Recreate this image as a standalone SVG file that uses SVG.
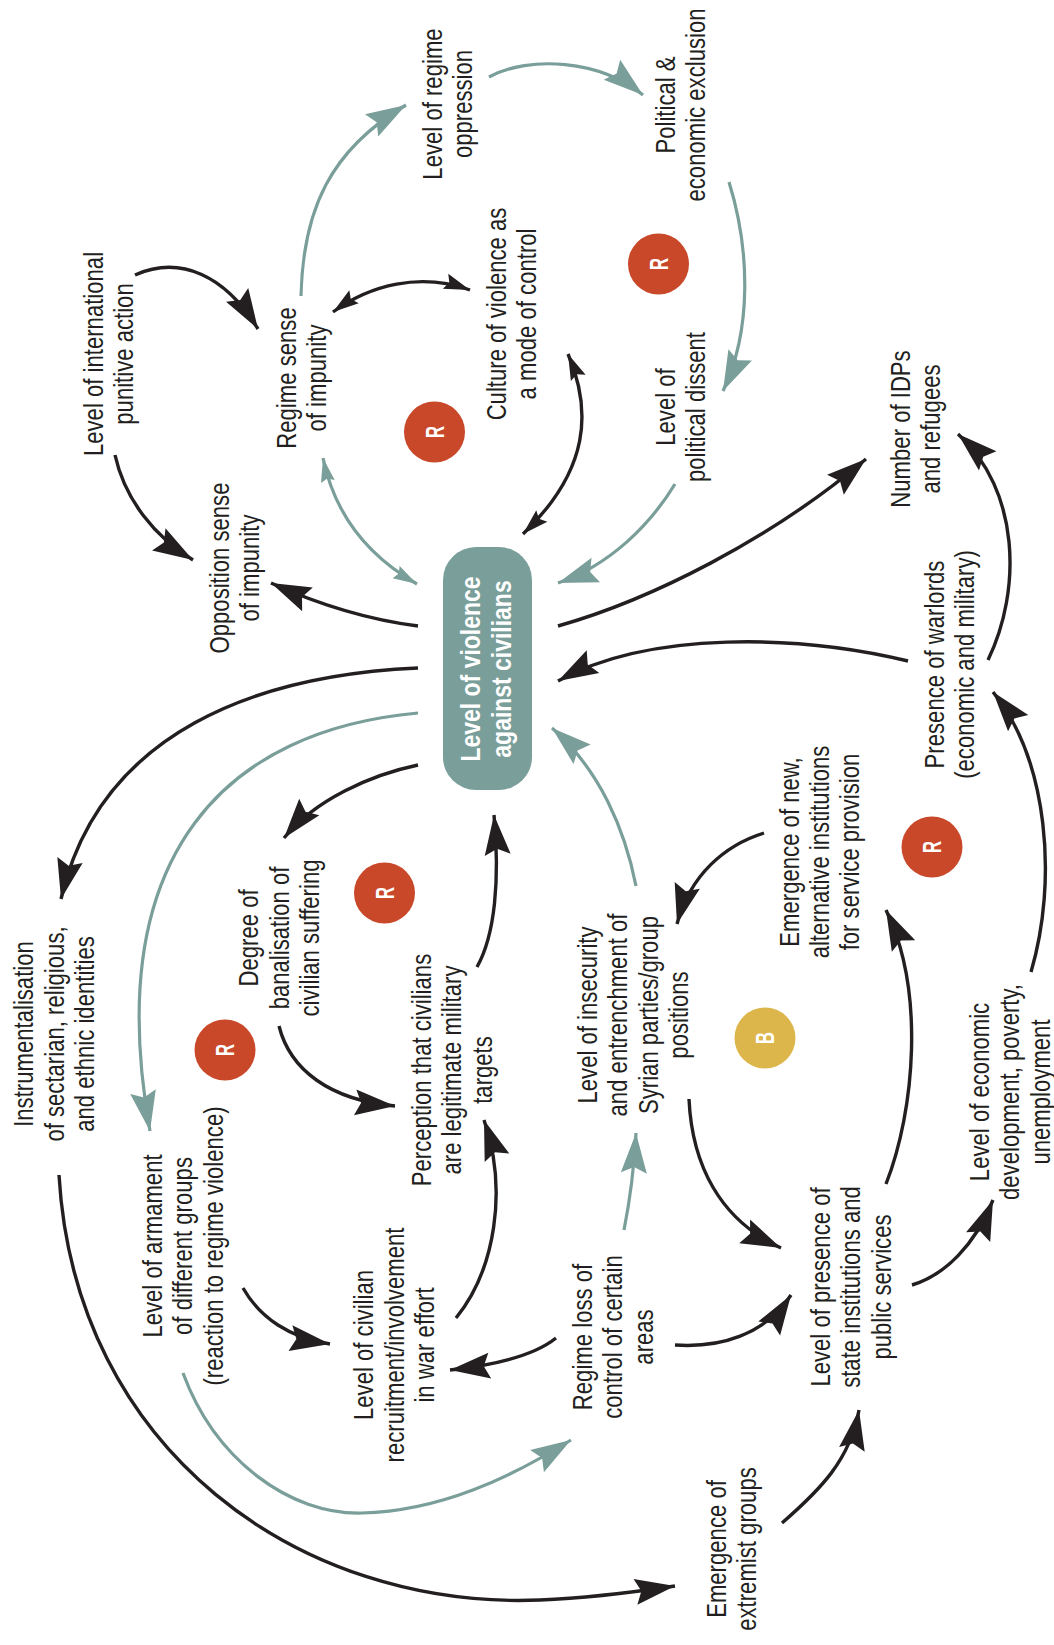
<svg xmlns="http://www.w3.org/2000/svg" width="1054" height="1645" viewBox="0 0 1054 1645">
<style>
.t{font-family:'Liberation Sans',Arial,sans-serif;font-size:27px;fill:#231F20;text-anchor:middle}
.tc{font-family:'Liberation Sans',Arial,sans-serif;font-size:28px;font-weight:bold;fill:#FFFFFF;text-anchor:middle}
.lt{font-family:'Liberation Sans',Arial,sans-serif;font-size:26px;font-weight:bold;fill:#FFFFFF;text-anchor:middle}
.k{fill:none;stroke:#231F20;stroke-width:3.4}
.g{fill:none;stroke:#7A9E99;stroke-width:3.2}
.r{fill:#C9482A}
.y{fill:#DDB64B}
</style>
<defs>
<marker id="ab" markerUnits="userSpaceOnUse" markerWidth="44" markerHeight="28" refX="40" refY="13" orient="auto" overflow="visible"><path d="M40,13 L0,0 L6,13 L0,26 Z" fill="#231F20"/></marker>
<marker id="abs" markerUnits="userSpaceOnUse" markerWidth="30" markerHeight="18" refX="26" refY="8" orient="auto-start-reverse" overflow="visible"><path d="M26,8 L0,0 L4,8 L0,16 Z" fill="#231F20"/></marker>
<marker id="at" markerUnits="userSpaceOnUse" markerWidth="44" markerHeight="28" refX="40" refY="13" orient="auto" overflow="visible"><path d="M40,13 L0,0 L6,13 L0,26 Z" fill="#7A9E99"/></marker>
<marker id="ats" markerUnits="userSpaceOnUse" markerWidth="28" markerHeight="16" refX="24" refY="7" orient="auto-start-reverse" overflow="visible"><path d="M24,7 L0,0 L3,7 L0,14 Z" fill="#7A9E99"/></marker>
</defs>
<rect width="1054" height="1645" fill="#FFFFFF"/>

<g id="connectors">
<path class="k" d="M135,275 C180,255 225,275 258,329" marker-end="url(#ab)"/>
<path class="k" d="M115,455 C125,500 155,537 193,560" marker-end="url(#ab)"/>
<path class="k" d="M418,626 C370,620 320,605 271,583" marker-end="url(#ab)"/>
<path class="g" d="M323,458 Q340,540 417,584" marker-start="url(#ats)" marker-end="url(#ats)"/>
<path class="k" d="M333,312 C370,285 420,272 470,290" marker-start="url(#abs)" marker-end="url(#abs)"/>
<path class="g" d="M301,296 C303,210 330,150 406,105" marker-end="url(#at)"/>
<path class="g" d="M489,77 C530,55 600,60 643,95" marker-end="url(#at)"/>
<path class="g" d="M729,182 C750,250 752,330 723,391" marker-end="url(#at)"/>
<path class="g" d="M675,484 C650,525 610,565 558,583" marker-end="url(#at)"/>
<path class="k" d="M568,354 C592,410 590,470 523,534" marker-start="url(#abs)" marker-end="url(#abs)"/>
<path class="k" d="M558,626 C650,600 770,540 866,459" marker-end="url(#ab)"/>
<path class="k" d="M988,660 C1022,590 1020,490 958,434" marker-end="url(#ab)"/>
<path class="k" d="M908,661 C800,635 650,630 558,681" marker-end="url(#ab)"/>
<path class="k" d="M1031,972 C1058,880 1048,760 993,692" marker-end="url(#ab)"/>
<path class="g" d="M636,886 C625,830 600,770 552,728" marker-end="url(#at)"/>
<path class="k" d="M764,833 C725,845 690,875 677,924" marker-end="url(#ab)"/>
<path class="k" d="M886,1184 C915,1110 925,990 886,910" marker-end="url(#ab)"/>
<path class="k" d="M912,1285 C945,1275 975,1245 993,1200" marker-end="url(#ab)"/>
<path class="k" d="M689,1099 C692,1165 720,1220 781,1248" marker-end="url(#ab)"/>
<path class="k" d="M675,1345 C720,1348 765,1335 791,1295" marker-end="url(#ab)"/>
<path class="g" d="M624,1230 C630,1200 634,1170 636,1133" marker-end="url(#at)"/>
<path class="k" d="M556,1338 C535,1355 495,1365 450,1370" marker-end="url(#ab)"/>
<path class="k" d="M456,1318 C495,1270 508,1190 484,1120" marker-end="url(#ab)"/>
<path class="k" d="M477,967 C495,935 500,880 494,815" marker-end="url(#ab)"/>
<path class="k" d="M279,1026 C290,1070 330,1100 395,1106" marker-end="url(#ab)"/>
<path class="k" d="M418,765 C370,775 315,800 284,838" marker-end="url(#ab)"/>
<path class="k" d="M418,668 C260,675 100,730 61,899" marker-end="url(#ab)"/>
<path class="g" d="M418,713 C230,730 100,850 150,1131" marker-end="url(#at)"/>
<path class="k" d="M243,1288 C260,1318 290,1338 330,1344" marker-end="url(#ab)"/>
<path class="g" d="M183,1373 C215,1460 290,1515 362,1513 C440,1511 510,1478 571,1440" marker-end="url(#at)"/>
<path class="k" d="M59,1175 C75,1450 300,1610 540,1600 C590,1598 635,1592 675,1586" marker-end="url(#ab)"/>
<path class="k" d="M782,1523 C820,1490 850,1460 859,1410" marker-end="url(#ab)"/>
</g>

<g id="n_central">
<rect x="443" y="547" width="89" height="243" rx="33" ry="33" fill="#7A9E99"/>
<text class="tc" transform="translate(0,669) rotate(-90) scale(0.82,1)"><tspan x="0" y="480">Level of violence</tspan><tspan x="0" y="511">against civilians</tspan></text>
</g>
<g id="n_intl"><text class="t" transform="translate(0,354) rotate(-90) scale(0.82,1)"><tspan x="0" y="103">Level of international</tspan><tspan x="0" y="133.5">punitive action</tspan></text></g>
<g id="n_regime_impunity"><text class="t" transform="translate(0,378) rotate(-90) scale(0.82,1)"><tspan x="0" y="296">Regime sense</tspan><tspan x="0" y="326.5">of impunity</tspan></text></g>
<g id="n_oppression"><text class="t" transform="translate(0,104) rotate(-90) scale(0.82,1)"><tspan x="0" y="442">Level of regime</tspan><tspan x="0" y="472.5">oppression</tspan></text></g>
<g id="n_culture"><text class="t" transform="translate(0,314) rotate(-90) scale(0.82,1)"><tspan x="0" y="506">Culture of violence as</tspan><tspan x="0" y="536.5">a mode of control</tspan></text></g>
<g id="n_exclusion"><text class="t" transform="translate(0,105) rotate(-90) scale(0.82,1)"><tspan x="0" y="675">Political &amp;</tspan><tspan x="0" y="705.5">economic exclusion</tspan></text></g>
<g id="n_dissent"><text class="t" transform="translate(0,407) rotate(-90) scale(0.82,1)"><tspan x="0" y="675">Level of</tspan><tspan x="0" y="705.5">political dissent</tspan></text></g>
<g id="n_idps"><text class="t" transform="translate(0,429) rotate(-90) scale(0.82,1)"><tspan x="0" y="910">Number of IDPs</tspan><tspan x="0" y="940.5">and refugees</tspan></text></g>
<g id="n_opp_impunity"><text class="t" transform="translate(0,568) rotate(-90) scale(0.82,1)"><tspan x="0" y="229">Opposition sense</tspan><tspan x="0" y="259.5">of impunity</tspan></text></g>
<g id="n_instr"><text class="t" transform="translate(0,1034) rotate(-90) scale(0.82,1)"><tspan x="0" y="33.5">Instrumentalisation</tspan><tspan x="0" y="64">of sectarian, religious,</tspan><tspan x="0" y="94.5">and ethnic identities</tspan></text></g>
<g id="n_degree"><text class="t" transform="translate(0,938) rotate(-90) scale(0.82,1)"><tspan x="0" y="258.5">Degree of</tspan><tspan x="0" y="289">banalisation of</tspan><tspan x="0" y="319.5">civilian suffering</tspan></text></g>
<g id="n_perception"><text class="t" transform="translate(0,1070) rotate(-90) scale(0.82,1)"><tspan x="0" y="431">Perception that civilians</tspan><tspan x="0" y="461.5">are legitimate military</tspan><tspan x="0" y="492">targets</tspan></text></g>
<g id="n_warlords"><text class="t" transform="translate(0,664.5) rotate(-90) scale(0.82,1)"><tspan x="0" y="944">Presence of warlords</tspan><tspan x="0" y="974.5">(economic and military)</tspan></text></g>
<g id="n_newinst"><text class="t" transform="translate(0,852) rotate(-90) scale(0.82,1)"><tspan x="0" y="799">Emergence of new,</tspan><tspan x="0" y="829">alternative institutions</tspan><tspan x="0" y="859.5">for service provision</tspan></text></g>
<g id="n_insecurity"><text class="t" transform="translate(0,1015) rotate(-90) scale(0.82,1)"><tspan x="0" y="597">Level of insecurity</tspan><tspan x="0" y="627.5">and entrenchment of</tspan><tspan x="0" y="658">Syrian parties/group</tspan><tspan x="0" y="688.5">positions</tspan></text></g>
<g id="n_armament"><text class="t" transform="translate(0,1246) rotate(-90) scale(0.82,1)"><tspan x="0" y="162">Level of armament</tspan><tspan x="0" y="192.5">of different groups</tspan><tspan x="0" y="223">(reaction to regime violence)</tspan></text></g>
<g id="n_recruit"><text class="t" transform="translate(0,1345) rotate(-90) scale(0.82,1)"><tspan x="0" y="373.5">Level of civilian</tspan><tspan x="0" y="404">recruitment/involvement</tspan><tspan x="0" y="434.5">in war effort</tspan></text></g>
<g id="n_loss"><text class="t" transform="translate(0,1337) rotate(-90) scale(0.82,1)"><tspan x="0" y="592">Regime loss of</tspan><tspan x="0" y="622.5">control of certain</tspan><tspan x="0" y="653">areas</tspan></text></g>
<g id="n_state"><text class="t" transform="translate(0,1287) rotate(-90) scale(0.82,1)"><tspan x="0" y="830">Level of presence of</tspan><tspan x="0" y="860.5">state institutions and</tspan><tspan x="0" y="891">public services</tspan></text></g>
<g id="n_econ"><text class="t" transform="translate(0,1092) rotate(-90) scale(0.82,1)"><tspan x="0" y="989">Level of economic</tspan><tspan x="0" y="1019.5">development, poverty,</tspan><tspan x="0" y="1050">unemployment</tspan></text></g>
<g id="n_extremist"><text class="t" transform="translate(0,1549) rotate(-90) scale(0.82,1)"><tspan x="0" y="726">Emergence of</tspan><tspan x="0" y="756.5">extremist groups</tspan></text></g>

<g id="loop_r1"><circle class="r" cx="434.5" cy="432" r="30.5"/><text class="lt" transform="translate(0,432) rotate(-90) scale(0.64,1)" x="0" y="443.8">R</text></g>
<g id="loop_r2"><circle class="r" cx="658.5" cy="264" r="30.5"/><text class="lt" transform="translate(0,264) rotate(-90) scale(0.64,1)" x="0" y="667.8">R</text></g>
<g id="loop_r3"><circle class="r" cx="384.5" cy="893" r="30.5"/><text class="lt" transform="translate(0,893) rotate(-90) scale(0.64,1)" x="0" y="393.8">R</text></g>
<g id="loop_r4"><circle class="r" cx="225" cy="1050" r="30.5"/><text class="lt" transform="translate(0,1050) rotate(-90) scale(0.64,1)" x="0" y="234.3">R</text></g>
<g id="loop_r5"><circle class="r" cx="932" cy="847" r="30.5"/><text class="lt" transform="translate(0,847) rotate(-90) scale(0.64,1)" x="0" y="941.3">R</text></g>
<g id="loop_b1"><circle class="y" cx="765" cy="1038" r="30.5"/><text class="lt" transform="translate(0,1038) rotate(-90) scale(0.64,1)" x="0" y="774.3">B</text></g>
</svg>
